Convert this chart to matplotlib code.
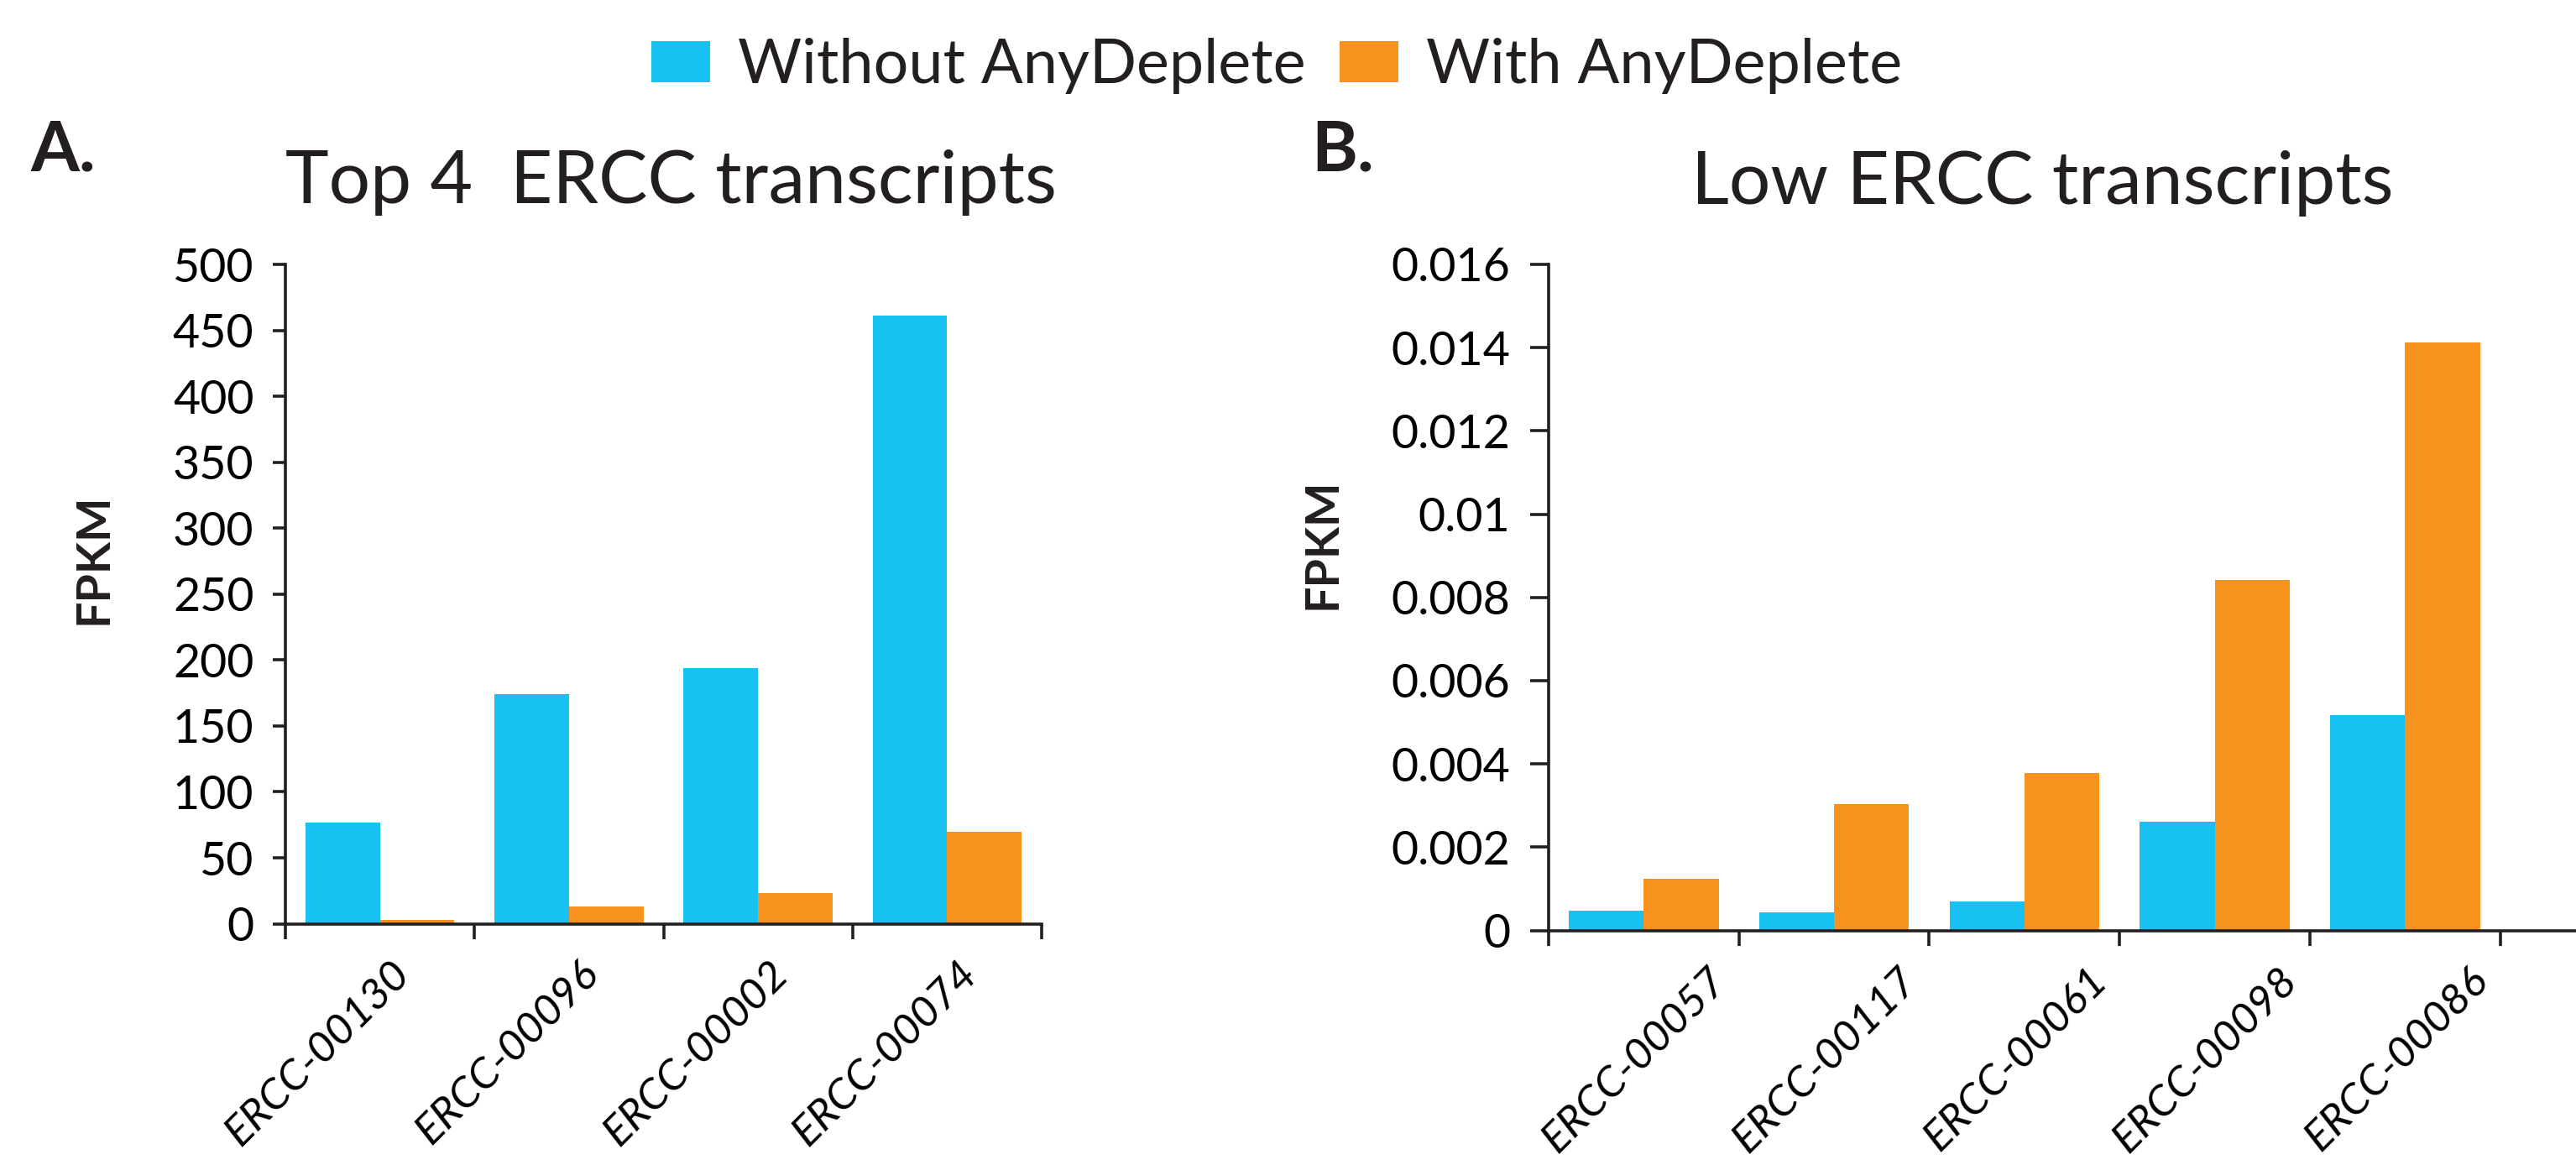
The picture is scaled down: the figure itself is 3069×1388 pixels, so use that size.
import matplotlib.pyplot as plt
import matplotlib.transforms as mtransforms
import numpy as np

# Panel A data
top_labels = ['ERCC-00130', 'ERCC-00096', 'ERCC-00002', 'ERCC-00074']
top_without = [77, 174, 194, 461]
top_with = [3, 13, 23, 70]

# Panel B data
low_labels = ['ERCC-00057', 'ERCC-00117', 'ERCC-00061', 'ERCC-00098', 'ERCC-00086']
low_without = [0.00047, 0.00044, 0.0007, 0.00262, 0.00517]
low_with = [0.00125, 0.00304, 0.00378, 0.00842, 0.01412]

low_ticks = [0, 0.002, 0.004, 0.006, 0.008, 0.01, 0.012, 0.014, 0.016]
low_ticklabels = ['0', '0.002', '0.004', '0.006', '0.008', '0.01', '0.012', '0.014', '0.016']

BLUE = '#17C1F1'
ORANGE = '#F7931E'
INK = '#231F20'

plt.rcParams['font.family'] = ['Lato', 'DejaVu Sans']
plt.rcParams['text.color'] = INK

W, H = 3069, 1388
fig = plt.figure(figsize=(W / 100, H / 100), dpi=100)


def px_axes(left, right, top, bottom):
    return fig.add_axes([left / W, 1 - bottom / H, (right - left) / W, (bottom - top) / H])


def style_axes(ax, n, labels, label_dx, ytick_len, ypad):
    ax.spines['top'].set_visible(False)
    ax.spines['right'].set_visible(False)
    for s in ['left', 'bottom']:
        ax.spines[s].set_linewidth(2.6)
        ax.spines[s].set_color(INK)
    # category boundaries as major ticks, names on minor ticks
    ax.set_xticks(np.arange(n + 1) - 0.5)
    ax.set_xticklabels([])
    ax.set_xticks(np.arange(n), minor=True)
    ax.set_xticklabels(labels, minor=True, rotation=45, ha='right',
                       rotation_mode='anchor', fontsize=37, style='italic')
    ax.tick_params(axis='x', which='major', length=13, width=2.6, color=INK, direction='out')
    ax.tick_params(axis='x', which='minor', length=0, pad=26)
    offset = mtransforms.ScaledTranslation(label_dx / 100, 0, fig.dpi_scale_trans)
    for lab in ax.get_xticklabels(minor=True):
        lab.set_transform(lab.get_transform() + offset)
    ax.tick_params(axis='y', length=ytick_len, width=2.6, color=INK, labelsize=40, pad=ypad)


# ---------------- Panel A ----------------
axA = px_axes(340, 1241, 315, 1100.6)
x = np.arange(len(top_labels))
axA.bar(x - 0.197, top_without, width=0.394, color=BLUE, label='Without AnyDeplete')
axA.bar(x + 0.197, top_with, width=0.394, color=ORANGE, label='With AnyDeplete')
axA.set_xlim(-0.5, len(top_labels) - 0.5)
axA.set_ylim(0, 500)
axA.set_yticks(np.arange(0, 501, 50))
style_axes(axA, len(top_labels), top_labels, 12, 11, 16)

# ---------------- Panel B ----------------
axB = px_axes(1845, 3068, 314.9, 1108.5)
x = np.arange(len(low_labels))
axB.bar(x - 0.197, low_without, width=0.394, color=BLUE)
axB.bar(x + 0.197, low_with, width=0.394, color=ORANGE)
axB.set_xlim(-0.5, len(low_labels) - 0.5 + 0.394)
axB.set_ylim(0, 0.016)
axB.set_yticks(low_ticks)
axB.set_yticklabels(low_ticklabels)
style_axes(axB, len(low_labels), low_labels, 75, 16, 17)

# titles, panel letters, axis labels
fig.text(799 / W, 1 - 242 / H, 'Top 4  ERCC transcripts', ha='center', va='baseline', fontsize=63)
fig.text(2433 / W, 1 - 243 / H, 'Low ERCC transcripts', ha='center', va='baseline', fontsize=63)
fig.text(36 / W, 1 - 204 / H, 'A.', ha='left', va='baseline', fontsize=60, fontweight='bold')
fig.text(1562 / W, 1 - 204 / H, 'B.', ha='left', va='baseline', fontsize=60, fontweight='bold')
fig.text(112 / W, 1 - 666 / H, 'FPKM', rotation=90, ha='center', va='center', fontsize=40, fontweight='bold')
fig.text(1576 / W, 1 - 648 / H, 'FPKM', rotation=90, ha='center', va='center', fontsize=40, fontweight='bold')

# shared legend
handles, names = axA.get_legend_handles_labels()
fig.legend(handles, names, loc='center', bbox_to_anchor=(1521 / W, 1 - 79 / H), ncol=2,
           frameon=False, fontsize=53, handlelength=0.95, handleheight=0.65,
           handletextpad=0.45, columnspacing=0.55, borderpad=0, borderaxespad=0)

fig.savefig('out.png', dpi=100)
